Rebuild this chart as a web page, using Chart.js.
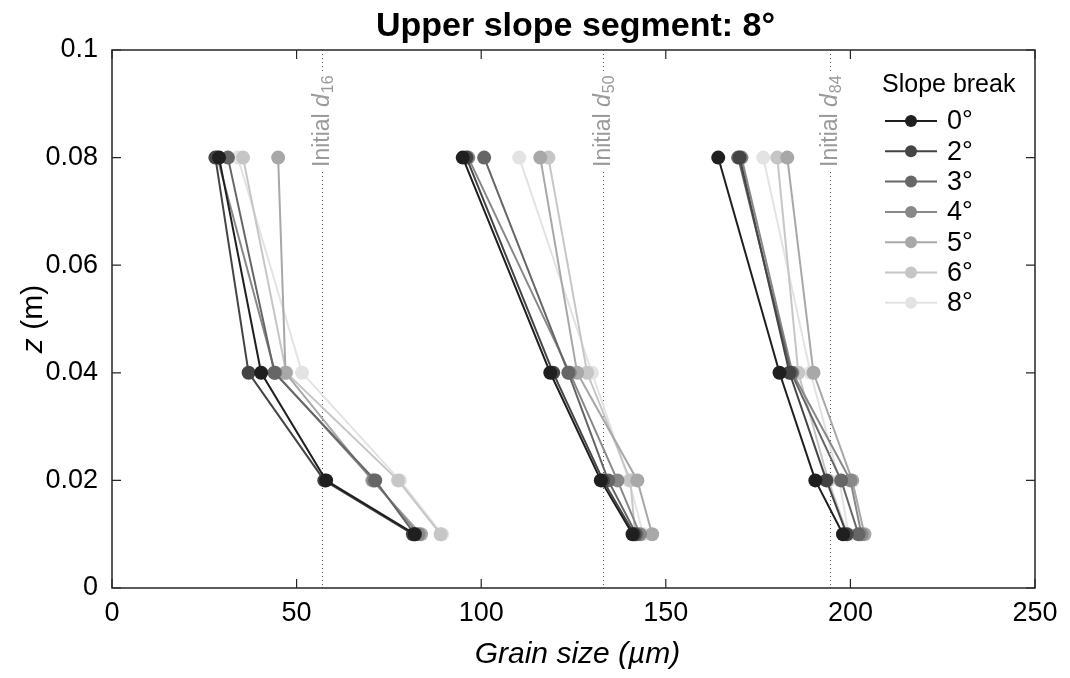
<!DOCTYPE html>
<html>
<head>
<meta charset="utf-8">
<script src="https://cdn.jsdelivr.net/npm/chart.js@4.4.1/dist/chart.umd.min.js"></script>
<style>
  html, body { margin: 0; padding: 0; background: #fff; }
  #wrap { width: 1070px; height: 678px; }
</style>
</head>
<body>
<div id="wrap"><canvas id="myChart" width="1070" height="678"></canvas></div>
<script>
// depth of the sampled layers (m)
const depths = [0.08, 0.04, 0.02, 0.01];
const slopeBreaks = ["0°", "2°", "3°", "4°", "5°", "6°", "8°"];

// grain size (µm) per slope break, one row per break, values at depths above
const d16Sizes = [
	[29, 40.4, 58, 82],
	[28, 37, 57.5, 81.5],
	[31.4, 44, 71.3, 82],
	[28.5, 44.2, 70.8, 83],
	[45, 47, 70.5, 83.7],
	[35.5, 47.2, 77.5, 89],
	[34.1, 51.5, 78, 89.4],
];
const d50Sizes = [
	[95, 118.7, 132.4, 141],
	[96, 119.5, 133, 141.5],
	[100.8, 123.6, 134.4, 142],
	[96.5, 124, 136.9, 143],
	[116, 126, 142.3, 146.3],
	[118.2, 128.7, 140.4, 141.7],
	[110.3, 130, 140, 143.9],
];
const d84Sizes = [
	[164.2, 180.8, 190.5, 198],
	[170, 183.5, 193.5, 199],
	[169.6, 184, 197.5, 202.2],
	[170.5, 184.3, 200, 203],
	[182.9, 190, 200.5, 203.8],
	[180.2, 185.9, 194, 199.2],
	[176.4, 189.2, 197, 199.5],
];

// initial percentiles of the bed (µm)
const initialSizes = [57, 133, 194.5];
const initialLabels = ["16", "50", "84"];

const xTicks = [0, 50, 100, 150, 200, 250];
const yTicks = [0, 0.02, 0.04, 0.06, 0.08, 0.1];

const seriesGrays = ["#1f1f1f", "#444444", "#666666", "#888888", "#a8a8a8", "#c6c6c6", "#e3e3e3"];
const FONT = "'Liberation Sans', Arial, Helvetica, sans-serif";

Chart.defaults.font.family = FONT;
Chart.defaults.color = "#000";

const groups = [d16Sizes, d50Sizes, d84Sizes];
const datasets = [];
slopeBreaks.forEach((label, k) => {
	groups.forEach((g) => {
		datasets.push({
			label: label,
			data: depths.map((z, i) => ({ x: g[k][i], y: z })),
			showLine: true,
			borderColor: seriesGrays[k],
			backgroundColor: seriesGrays[k],
			borderWidth: 2,
			pointRadius: 7,
			pointBorderWidth: 0,
			pointHoverRadius: 7,
		});
	});
});

const decor = {
	id: "decor",
	beforeDatasetsDraw(chart) {
		const { ctx, chartArea: a, scales } = chart;
		ctx.save();
		initialSizes.forEach((v, i) => {
			const px = Math.round(scales.x.getPixelForValue(v)) + 0.5;
			ctx.font = "23px " + FONT;
			const w1 = ctx.measureText("Initial ").width;
			ctx.font = "italic 23px " + FONT;
			const w2 = ctx.measureText("d").width;
			ctx.font = "16px " + FONT;
			const w3 = ctx.measureText(initialLabels[i]).width;
			const total = w1 + w2 + w3;
			const bottom = 167;
			const top = bottom - total;

			ctx.strokeStyle = "#555";
			ctx.lineWidth = 1;
			ctx.setLineDash([1, 3]);
			ctx.beginPath();
			ctx.moveTo(px, a.top);
			ctx.lineTo(px, top - 5);
			ctx.moveTo(px, bottom + 5);
			ctx.lineTo(px, a.bottom);
			ctx.stroke();
			ctx.setLineDash([]);

			ctx.translate(px, bottom);
			ctx.rotate(-Math.PI / 2);
			ctx.fillStyle = "#9a9a9a";
			ctx.textBaseline = "middle";
			ctx.textAlign = "left";
			ctx.font = "23px " + FONT;
			ctx.fillText("Initial ", 0, 0);
			ctx.font = "italic 23px " + FONT;
			ctx.fillText("d", w1, 0);
			ctx.font = "16px " + FONT;
			ctx.fillText(initialLabels[i], w1 + w2 + 1, 6);
			ctx.setTransform(1, 0, 0, 1, 0, 0);
		});
		ctx.restore();
	},
	afterDraw(chart) {
		const { ctx, chartArea: a, scales } = chart;
		ctx.save();
		// box + inward ticks
		ctx.strokeStyle = "#262626";
		ctx.lineWidth = 1.5;
		ctx.strokeRect(a.left, a.top, a.right - a.left, a.bottom - a.top);
		ctx.lineWidth = 1.2;
		ctx.beginPath();
		xTicks.forEach((t) => {
			const px = scales.x.getPixelForValue(t);
			ctx.moveTo(px, a.bottom); ctx.lineTo(px, a.bottom - 9);
			ctx.moveTo(px, a.top); ctx.lineTo(px, a.top + 9);
		});
		yTicks.forEach((t) => {
			const py = scales.y.getPixelForValue(t);
			ctx.moveTo(a.left, py); ctx.lineTo(a.left + 9, py);
			ctx.moveTo(a.right, py); ctx.lineTo(a.right - 9, py);
		});
		ctx.stroke();

		// title
		ctx.fillStyle = "#000";
		ctx.textAlign = "center";
		ctx.textBaseline = "middle";
		ctx.font = "bold 34px " + FONT;
		ctx.fillText("Upper slope segment: 8°", (a.left + a.right) / 2 + 2, 27);

		// x title
		ctx.font = "italic 30px " + FONT;
		ctx.fillText("Grain size (µm)", (a.left + a.right) / 2 + 4, 655);

		// y title
		ctx.translate(34, (a.top + a.bottom) / 2);
		ctx.rotate(-Math.PI / 2);
		ctx.font = "italic 30px " + FONT;
		const wz = ctx.measureText("z").width;
		ctx.font = "30px " + FONT;
		const wm = ctx.measureText(" (m)").width;
		ctx.textAlign = "left";
		ctx.font = "italic 30px " + FONT;
		ctx.fillText("z", -(wz + wm) / 2, 0);
		ctx.font = "30px " + FONT;
		ctx.fillText(" (m)", -(wz + wm) / 2 + wz, 0);
		ctx.setTransform(1, 0, 0, 1, 0, 0);

		// legend
		ctx.textAlign = "left";
		ctx.textBaseline = "middle";
		ctx.font = "25px " + FONT;
		ctx.fillStyle = "#000";
		ctx.fillText("Slope break", 882, 85);
		ctx.font = "27px " + FONT;
		slopeBreaks.forEach((label, k) => {
			const y = 121 + k * 30.3;
			ctx.strokeStyle = seriesGrays[k];
			ctx.lineWidth = 2;
			ctx.beginPath();
			ctx.moveTo(885, y);
			ctx.lineTo(937, y);
			ctx.stroke();
			ctx.fillStyle = seriesGrays[k];
			ctx.beginPath();
			ctx.arc(911, y, 6, 0, Math.PI * 2);
			ctx.fill();
			ctx.fillStyle = "#000";
			ctx.fillText(label, 947, y + 1);
		});
		ctx.restore();
	},
};

const chart = new Chart(document.getElementById("myChart").getContext("2d"), {
	type: "scatter",
	data: { datasets: datasets },
	options: {
		responsive: false,
		animation: false,
		devicePixelRatio: 1,
		layout: { padding: { top: 50, right: 35, left: 0, bottom: 0 } },
		plugins: {
			legend: { display: false },
			tooltip: { enabled: false },
		},
		scales: {
			x: {
				type: "linear",
				min: 0,
				max: 250,
				grid: { display: false, drawTicks: false },
				border: { display: false },
				ticks: { stepSize: 50, font: { size: 27 }, color: "#000", padding: 9 },
				afterFit: (s) => { s.height = 90; },
			},
			y: {
				type: "linear",
				min: 0,
				max: 0.1,
				grid: { display: false, drawTicks: false },
				border: { display: false },
				ticks: {
					stepSize: 0.02,
					font: { size: 27 },
					color: "#000",
					padding: 14,
					callback: (v) => String(Number(v.toFixed(2))),
				},
				afterFit: (s) => { s.width = 112; },
			},
		},
	},
	plugins: [decor],
});
</script>
</body>
</html>
